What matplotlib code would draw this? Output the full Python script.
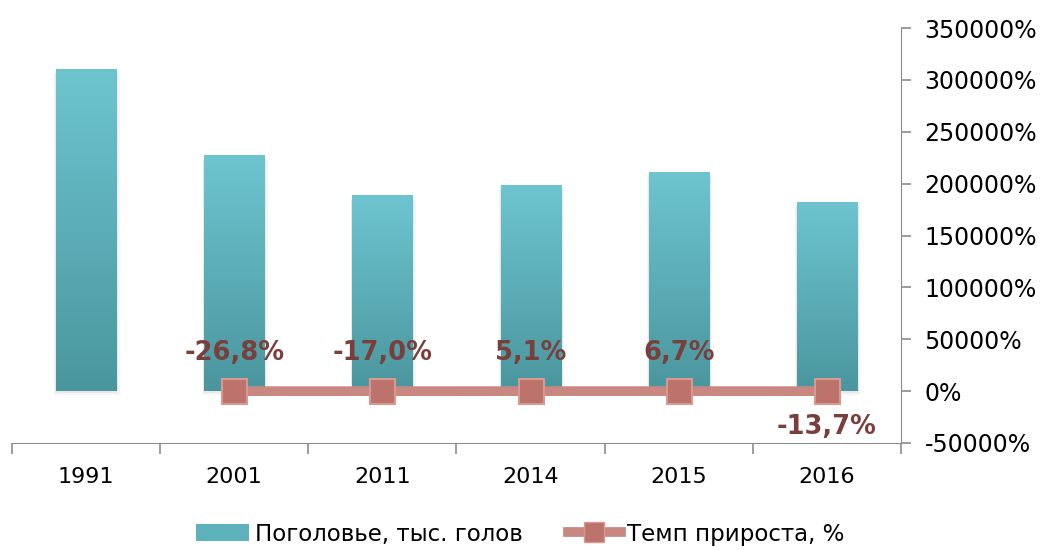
import matplotlib
matplotlib.use('Agg')
import matplotlib.pyplot as plt
import numpy as np
from matplotlib.colors import LinearSegmentedColormap
from matplotlib.lines import Line2D
from matplotlib.patches import Patch

years = ['1991', '2001', '2011', '2014', '2015', '2016']
herd = [3104, 2272, 1886, 1982, 2115, 1825]  # поголовье, тыс. голов
growth = [None, -26.8, -17.0, 5.1, 6.7, -13.7]  # темп прироста, %
growth_labels = ['', '-26,8%', '-17,0%', '5,1%', '6,7%', '-13,7%']
right_ticks = [-50000, 0, 50000, 100000, 150000, 200000, 250000, 300000, 350000]

plt.rcParams['font.family'] = ['DejaVu Sans']

fig = plt.figure(figsize=(10.4, 5.5), dpi=100)
ax = fig.add_axes([12 / 1040, 1 - 443 / 550, (901 - 12) / 1040, (443 - 28) / 550])
ax2 = ax.twinx()

x = np.arange(len(years))

# bars with vertical gradient and a soft shadow
cmap = LinearSegmentedColormap.from_list('teal', ['#4a969e', '#6dc5d0'])
grad = np.linspace(0, 1, 256).reshape(-1, 1)
bars = ax.bar(x, herd, width=0.405, color='none', zorder=2)
for b in bars:
    bx, by, bw, bh = b.get_x(), b.get_y(), b.get_width(), b.get_height()
    for k, al in ((0.035, 0.04), (0.02, 0.05)):
        sh = plt.Rectangle((bx - k / 3, by - 40 * k / 0.035), bw + k, bh,
                           color='#000000', alpha=al, lw=0, zorder=1)
        ax.add_patch(sh)
    im = ax.imshow(grad, cmap=cmap, origin='lower', aspect='auto',
                   extent=(bx, bx + bw, by, by + bh), zorder=2)
    im.set_clip_path(b)
ax.set_aspect('auto')
ax.set_xlim(-0.5, len(years) - 0.5)
ax.set_ylim(-500, 3500)
ax2.set_ylim(-50000, 350000)

# growth line on right axis
gx = [i for i, g in enumerate(growth) if g is not None]
gy = [g for g in growth if g is not None]
ax2.plot(gx, gy, color='#c98781', lw=7, solid_capstyle='round',
         marker='s', markersize=18, markerfacecolor='#bd736b',
         markeredgecolor='#d69a92', markeredgewidth=1.5, zorder=5)
for i, g in zip(gx, gy):
    off = -36 if i == len(years) - 1 else 38
    ax2.annotate(growth_labels[i], (i, g), xytext=(0, off), textcoords='offset pixels',
                 ha='center', va='center', fontsize=18.5, fontweight='bold',
                 color='#7b3f3b', zorder=6)

# axes styling
for a in (ax, ax2):
    for s in ('top', 'left'):
        a.spines[s].set_visible(False)
ax.spines['right'].set_visible(False)
ax2.spines['right'].set_color('#8c8c8c')
ax2.spines['bottom'].set_visible(False)
ax.spines['bottom'].set_color('#8c8c8c')

ax.set_yticks([])
ax.set_xticks(x)
ax.set_xticklabels(years, fontsize=16)
ax.set_xticks(np.arange(-0.5, len(years)), minor=True)
ax.tick_params(axis='x', which='major', length=0, pad=17)
ax.tick_params(axis='x', which='minor', length=8, width=1.2, color='#8c8c8c')

ax2.set_yticks(right_ticks)
ax2.set_yticklabels([f'{v}%' for v in right_ticks], fontsize=17)
ax2.tick_params(axis='y', length=7, width=1.2, color='#8c8c8c', pad=10)

handles = [Patch(facecolor='#5eb2bb', edgecolor='none'),
           Line2D([0], [0], color='#c98781', lw=7, marker='s', markersize=14,
                  markerfacecolor='#bd736b', markeredgecolor='#d69a92')]
fig.legend(handles, ['Поголовье, тыс. голов', 'Темп прироста, %'],
           loc='center', bbox_to_anchor=(0.5, 1 - 534 / 550), ncol=2,
           frameon=False, fontsize=16.5, handlelength=2.3, handletextpad=0.25,
           columnspacing=2.0)

fig.savefig('out.png', dpi=100)
